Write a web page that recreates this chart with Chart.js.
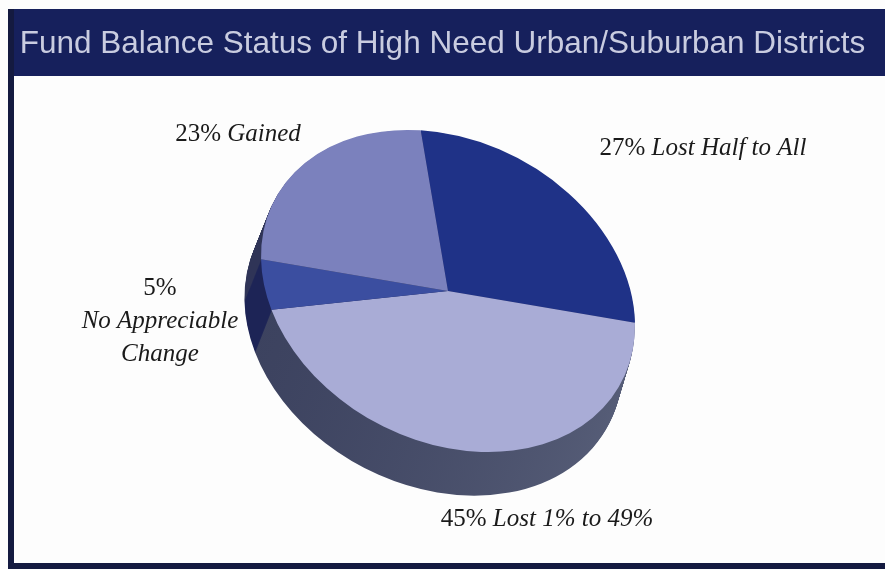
<!DOCTYPE html>
<html>
<head>
<meta charset="utf-8">
<script src="https://cdn.jsdelivr.net/npm/chart.js@4.4.1/dist/chart.umd.min.js"></script>
<style>
  html, body { margin: 0; padding: 0; background: #fdfdfd; }
  #wrap { width: 885px; height: 569px; position: relative; }
</style>
</head>
<body>
<div id="wrap"><canvas id="grafico" width="885" height="569"></canvas></div>
<script>
// slices go clockwise from the top
const categories = ['Lost Half to All', 'Lost 1% to 49%', 'No Appreciable Change', 'Gained'];
const shares = [27, 45, 5, 23];
const topColors = ['#1f3287', '#a9acd6', '#3b4ea0', '#7b81bd'];
const sideColors = [['#1a2460', '#1a2460'], ['#3c425f', '#575e78'], ['#1d2456', '#1d2456'], ['#2f3457', '#2f3457']];

// label text: percent upright, words in italics
const labelLines = [
  [[shares[0] + '%', ' Lost Half to All']],
  [[shares[1] + '%', ' Lost 1% to 49%']],
  [[shares[2] + '%', ''], ['', 'No Appreciable'], ['', 'Change']],
  [[shares[3] + '%', ' Gained']]
];
// where each label sits (center x, first line y)
const labelPos = [[703, 148], [547, 519], [160, 288], [238, 134]];

const CX = 448, CY = 291;
const RX = 186, RY = 160;
const SH = 0.12, SV = 0.10;
const DEPTH = 42;

function tilt(ctx, a) {
  ctx.translate(CX, CY);
  ctx.transform(1, SV, SH, 1, 0, 0);
  ctx.scale(RX / a.outerRadius, RY / a.outerRadius);
  ctx.translate(-a.x, -a.y);
}

const frame = {
  id: 'frame',
  beforeDraw(chart) {
    const ctx = chart.ctx;
    ctx.save();
    ctx.fillStyle = '#fdfdfd';
    ctx.fillRect(0, 0, 885, 569);
    ctx.fillStyle = '#16205c';
    ctx.fillRect(8, 9, 877, 67);
    ctx.fillStyle = '#141a40';
    ctx.fillRect(8, 9, 6, 560);
    ctx.fillRect(8, 563, 877, 6);
    ctx.restore();
  }
};

const pie3d = {
  id: 'pie3d',
  beforeDatasetsDraw(chart) {
    const ctx = chart.ctx;
    const arcs = chart.getDatasetMeta(0).data;
    for (let d = DEPTH; d > 0; d--) {
      ctx.save();
      ctx.translate(-0.35 * d, d);
      tilt(ctx, arcs[0]);
      arcs.forEach((a, i) => {
        const r = a.outerRadius * (1 + 0.01 * d / DEPTH);
        const g = ctx.createLinearGradient(a.x - r, 0, a.x + r, 0);
        g.addColorStop(0, sideColors[i][0]);
        g.addColorStop(1, sideColors[i][1]);
        ctx.beginPath();
        ctx.moveTo(a.x, a.y);
        ctx.arc(a.x, a.y, r, a.startAngle, a.endAngle);
        ctx.closePath();
        ctx.fillStyle = g;
        ctx.fill();
      });
      ctx.restore();
    }
    ctx.save();
    tilt(ctx, arcs[0]);
  },
  afterDatasetsDraw(chart) {
    chart.ctx.restore();
  },
  afterDraw(chart) {
    const ctx = chart.ctx;
    const roman = '25px "Liberation Serif", serif';
    const italic = 'italic 25px "Liberation Serif", serif';
    ctx.save();
    ctx.fillStyle = '#1a1a1a';
    ctx.textAlign = 'left';
    ctx.textBaseline = 'middle';
    labelLines.forEach((lines, i) => {
      lines.forEach(([r, it], j) => {
        ctx.font = roman;
        const wr = ctx.measureText(r).width;
        ctx.font = italic;
        const wi = ctx.measureText(it).width;
        const x0 = labelPos[i][0] - (wr + wi) / 2;
        const y = labelPos[i][1] + j * 33;
        ctx.font = roman;
        ctx.fillText(r, x0, y);
        ctx.font = italic;
        ctx.fillText(it, x0 + wr, y);
      });
    });
    ctx.restore();
  }
};

new Chart(document.getElementById('grafico'), {
  type: 'pie',
  data: {
    labels: categories,
    datasets: [{
      data: shares,
      backgroundColor: topColors,
      borderWidth: 0
    }]
  },
  options: {
    responsive: false,
    animation: false,
    rotation: -2.5,
    layout: { padding: { top: 8 } },
    plugins: {
      legend: { display: false },
      tooltip: { enabled: false },
      title: {
        display: true,
        text: 'Fund Balance Status of High Need Urban/Suburban Districts',
        color: '#c9cce0',
        font: { family: '"Liberation Sans", Arial, sans-serif', size: 31.5, weight: 'normal' },
        padding: { top: 17, bottom: 18 }
      }
    }
  },
  plugins: [frame, pie3d]
});
</script>
</body>
</html>
